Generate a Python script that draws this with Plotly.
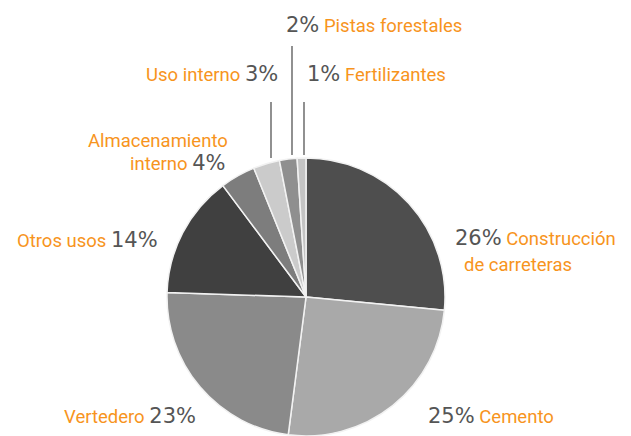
import plotly.graph_objects as go

categories = ["Construcción de carreteras", "Cemento", "Vertedero", "Otros usos",
              "Almacenamiento interno", "Uso interno", "Pistas forestales", "Fertilizantes"]
values = [26, 25, 23, 14, 4, 3, 2, 1]
slice_colors = ["#4e4e4e", "#a9a9a9", "#8a8a8a", "#404040",
                "#7d7d7d", "#cbcbcb", "#8f8f8f", "#c4c4c4"]

ORANGE = "#f7941d"
GRAY = "#555555"
W, H = 631, 436

fig = go.Figure(go.Pie(
    labels=categories, values=values, sort=False, direction="clockwise", rotation=0,
    marker=dict(colors=slice_colors, line=dict(color="#f2f2f2", width=1.5)),
    textinfo="none", hoverinfo="label+percent", showlegend=False,
    domain=dict(x=[167 / W, 445 / W], y=[0, 278 / H]),
))

def lab(t):
    return f"<span style='color:{ORANGE}'>{t}</span>"

def pct(v):
    return (f"<span style='color:{GRAY};font-family:DejaVu Sans;font-size:21px;"
            f"font-weight:400'>{v}%</span>")

# (text, x px, y px, xanchor)
labels = [
    (pct(values[6]) + " " + lab("Pistas forestales"), 284, 25, "left"),
    (lab("Uso interno") + " " + pct(values[5]), 280, 74, "right"),
    (pct(values[7]) + " " + lab("Fertilizantes"), 305, 74, "left"),
    (lab("Almacenamiento"), 230, 141, "right"),
    (lab("interno") + " " + pct(values[4]), 228, 163, "right"),
    (lab("Otros usos") + " " + pct(values[3]), 160, 240, "right"),
    (pct(values[0]) + " " + lab("Construcción"), 453, 238, "left"),
    (lab("de carreteras"), 462, 265, "left"),
    (lab("Vertedero") + " " + pct(values[2]), 198, 416, "right"),
    (pct(values[1]) + " " + lab("Cemento"), 426, 416, "left"),
]

annotations = []
for text, x, y, xa in labels:
    annotations.append(dict(
        text=text, x=x / W, y=1 - y / H, xref="paper", yref="paper",
        xanchor=xa, yanchor="middle", showarrow=False,
        font=dict(family="Roboto", size=18.5, color=ORANGE, weight=400),
    ))

leaders = [(271, 102, 158), (292, 46, 155), (304, 102, 155)]
shapes = [dict(type="line", xref="paper", yref="paper",
               x0=x / W, x1=x / W, y0=1 - y0 / H, y1=1 - y1 / H,
               line=dict(color="#555555", width=1.3)) for x, y0, y1 in leaders]

fig.update_layout(
    width=W, height=H, margin=dict(l=0, r=0, t=0, b=0),
    paper_bgcolor="white", plot_bgcolor="white",
    annotations=annotations, shapes=shapes,
)
fig.write_html("out.html", config={"displayModeBar": False},
               post_script="document.body.style.margin='0';")
